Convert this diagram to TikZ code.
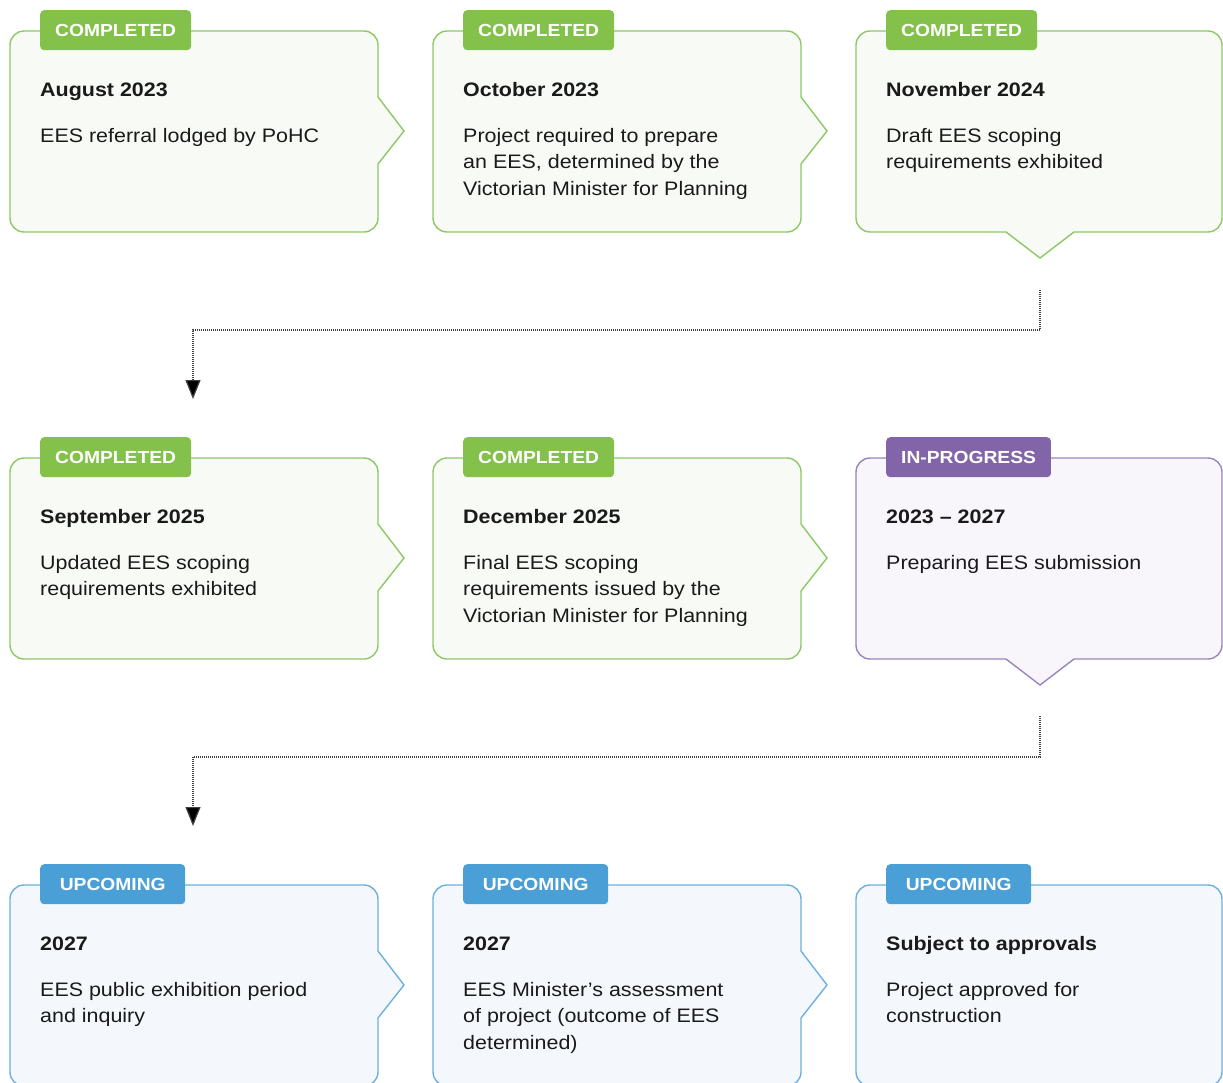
\documentclass[tikz,border=0pt]{standalone}
\usepackage{fontspec}
\setmainfont{Liberation Sans}[FakeStretch=1.1]
\usetikzlibrary{arrows.meta}
\definecolor{gtag}{HTML}{84C14B}
\definecolor{gline}{HTML}{8DC866}
\definecolor{gfill}{HTML}{F8FAF5}
\definecolor{ptag}{HTML}{8264A8}
\definecolor{pline}{HTML}{9A84BD}
\definecolor{pfill}{HTML}{F8F6FA}
\definecolor{btag}{HTML}{4A9FD6}
\definecolor{bline}{HTML}{6CB0E1}
\definecolor{bfill}{HTML}{F4F8FC}
\definecolor{ink}{HTML}{1A1A1A}
\tikzset{
  card/.style={line width=1.4pt, draw=#1line, fill=#1fill},
  tagbox/.style={fill=#1tag, text=white, rounded corners=4pt, minimum height=40pt,
    inner xsep=15pt, inner ysep=0pt, anchor=north west,
    font=\fontsize{17.5pt}{20pt}\selectfont\bfseries},
  titletext/.style={anchor=base west, inner sep=0pt, text=ink,
    font=\fontsize{19.5pt}{26.5pt}\selectfont\bfseries},
  bodytext/.style={anchor=north west, inner sep=0pt, text=ink, align=left,
    font=\fontsize{19.5pt}{26.5pt}\selectfont},
  flow/.style={line width=1.2pt, draw=black!75, dash pattern=on 1pt off 1pt,
    -{Triangle[length=19pt,width=15pt,fill=black]}}
}
% card shapes: x0, ytop(px), x1, scheme
\newcommand\shapeR[4]{%
  \draw[card=#4] (#1,-#2-14) arc[start angle=180,end angle=90,radius=14pt]
    -- (#3-14,-#2) arc[start angle=90,end angle=0,radius=14pt]
    -- (#3,-#2-66) -- (#3+26,-#2-100) -- (#3,-#2-133)
    -- (#3,-#2-201+14) arc[start angle=0,end angle=-90,radius=14pt]
    -- (#1+14,-#2-201) arc[start angle=270,end angle=180,radius=14pt] -- cycle;}
\newcommand\shapeB[4]{%
  \draw[card=#4] (#1,-#2-14) arc[start angle=180,end angle=90,radius=14pt]
    -- (#3-14,-#2) arc[start angle=90,end angle=0,radius=14pt]
    -- (#3,-#2-201+14) arc[start angle=0,end angle=-90,radius=14pt]
    -- (1074,-#2-201) -- (1040,-#2-227) -- (1006,-#2-201)
    -- (#1+14,-#2-201) arc[start angle=270,end angle=180,radius=14pt] -- cycle;}
\newcommand\shapeN[4]{%
  \draw[card=#4] (#1,-#2-14) arc[start angle=180,end angle=90,radius=14pt]
    -- (#3-14,-#2) arc[start angle=90,end angle=0,radius=14pt]
    -- (#3,-#2-201+14) arc[start angle=0,end angle=-90,radius=14pt]
    -- (#1+14,-#2-201) arc[start angle=270,end angle=180,radius=14pt] -- cycle;}
% texts: [tag width], name, x0, ytop, scheme, tag, title, body
\newcommand\cardtext[8][0pt]{%
  \node[tagbox=#5, minimum width=#1] (#2tag) at (#3+30,-#4+21) {#6};
  \node[titletext] (#2title) at (#3+30,-#4-65) {#7};
  \node[bodytext] (#2body) at (#3+30,-#4-111+20) {\rule{0pt}{20pt}#8};
}
\begin{document}
\begin{tikzpicture}[x=1pt,y=1pt]
\useasboundingbox (0,0) rectangle (1223,-1082);
% row 1
\shapeR{10}{31}{378}{g}
\shapeR{433}{31}{801}{g}
\shapeB{856}{31}{1222}{g}
\cardtext{a}{10}{31}{g}{COMPLETED}{August 2023}{EES referral lodged by PoHC}
\cardtext{b}{433}{31}{g}{COMPLETED}{October 2023}{Project required to prepare\\an EES, determined by the\\Victorian Minister for Planning}
\cardtext{c}{856}{31}{g}{COMPLETED}{November 2024}{Draft EES scoping\\requirements exhibited}
% row 2
\shapeR{10}{458}{378}{g}
\shapeR{433}{458}{801}{g}
\shapeB{856}{458}{1222}{p}
\cardtext{d}{10}{458}{g}{COMPLETED}{September 2025}{Updated EES scoping\\requirements exhibited}
\cardtext{e}{433}{458}{g}{COMPLETED}{December 2025}{Final EES scoping\\requirements issued by the\\Victorian Minister for Planning}
\cardtext{f}{856}{458}{p}{IN-PROGRESS}{2023 – 2027}{Preparing EES submission}
% row 3
\shapeR{10}{885}{378}{b}
\shapeR{433}{885}{801}{b}
\shapeN{856}{885}{1222}{b}
\cardtext[145pt]{g}{10}{885}{b}{UPCOMING}{2027}{EES public exhibition period\\and inquiry}
\cardtext[145pt]{h}{433}{885}{b}{UPCOMING}{2027}{EES Minister’s assessment\\of project (outcome of EES\\determined)}
\cardtext[145pt]{i}{856}{885}{b}{UPCOMING}{Subject to approvals}{Project approved for\\construction}
% connectors
\coordinate (c1s) at (1040,-290);
\coordinate (c1e) at (193,-399);
\coordinate (c2s) at (1040,-716);
\coordinate (c2e) at (193,-826);
\draw[flow] (c1s) -- ++(0,-40) -| (c1e);
\draw[flow] (c2s) -- ++(0,-41) -| (c2e);
\end{tikzpicture}
\end{document}
